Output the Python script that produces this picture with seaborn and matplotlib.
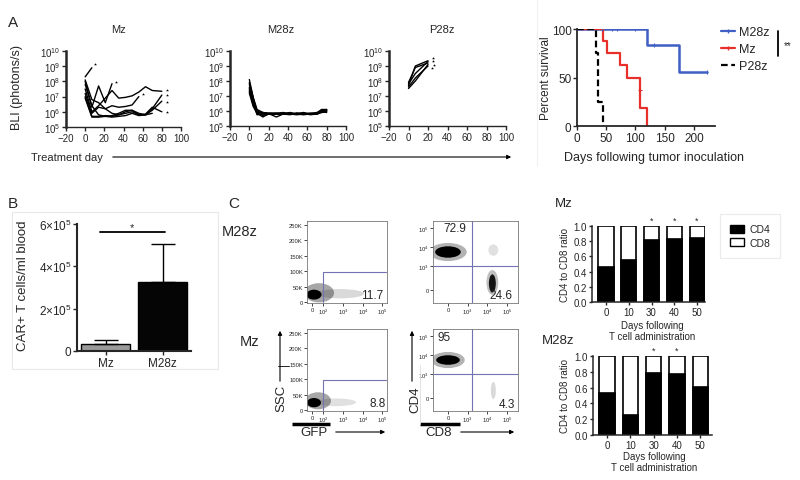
import numpy as np
import pandas as pd
import matplotlib
matplotlib.use("Agg")
import matplotlib.pyplot as plt
import seaborn as sns
from matplotlib.patches import Ellipse, Rectangle, Patch
from matplotlib.lines import Line2D

sns.set_theme(style="ticks")
plt.rcParams['font.family'] = ['Liberation Sans', 'DejaVu Sans']
plt.rcParams['mathtext.fontset'] = 'custom'
plt.rcParams['mathtext.rm'] = 'Liberation Sans'
plt.rcParams['mathtext.it'] = 'Liberation Sans'
plt.rcParams['mathtext.bf'] = 'Liberation Sans'

# ---------------- data ----------------
# Panel A: BLI (log10 photons/s) per mouse
bli_days = [0, 7, 14, 21, 28, 35, 42, 49, 56, 63, 70, 80]
mz_mouse1 = [8.3, 8.9]
mz_mouse2 = [8.0, 6.3, 7.7, 6.6, 7.85]
mz_mouse3 = [7.5, 6.0, 6.4, 6.9, 7.4, 6.9, 6.95, 7.05, 7.3, 7.65, 7.4, 7.35]
mz_mouse4 = [7.2, 5.9, 6.3, 6.2, 6.4, 6.3, 6.35, 6.45, 7.0]
mz_mouse5 = [7.0, 5.7, 5.7, 5.75, 5.7, 5.8, 6.0, 6.1, 5.8, 5.8, 6.2, 7.1]
mz_mouse6 = [7.8, 6.4, 5.8, 5.7, 5.75, 5.9, 6.1, 6.1, 5.9, 5.8, 6.1, 6.7]
mz_mouse7 = [8.1, 6.8, 6.6, 6.2, 5.9, 5.8, 5.9, 6.0, 5.8, 5.85, 6.3, 6.0]
mz_mouse8 = [6.9, 5.65, 5.65, 5.7, 5.65, 5.7, 5.75, 5.9, 5.75, 5.8, 5.9]
mz_star_days = [10, 32, 60, 85, 85, 85, 85]
mz_star_log = [9.15, 7.95, 7.2, 7.45, 7.1, 6.65, 6.0]

m28z_days = [0, 4, 8, 14, 21, 28, 35, 42, 49, 56, 63, 70, 75, 80]
m28z_mouse1 = [8.1, 6.9, 5.9, 5.85, 5.85, 5.85, 5.8, 5.85, 5.8, 5.85, 5.8, 5.85, 6.05, 6.0]
m28z_mouse2 = [7.8, 6.7, 5.85, 5.6, 5.85, 5.8, 5.85, 5.8, 5.85, 5.8, 5.85, 5.8, 6.0, 6.05]
m28z_mouse3 = [7.5, 6.5, 5.8, 5.8, 5.8, 5.6, 5.8, 5.8, 5.75, 5.8, 5.8, 5.8, 6.1, 6.1]
m28z_mouse4 = [7.3, 6.4, 5.9, 5.9, 5.8, 5.8, 5.8, 5.9, 5.8, 5.75, 5.8, 5.85, 5.95, 5.9]
m28z_mouse5 = [7.6, 6.8, 6.0, 5.85, 5.8, 5.85, 5.9, 5.8, 5.85, 5.85, 5.75, 5.8, 6.0, 6.1]
m28z_mouse6 = [7.2, 6.3, 5.85, 5.7, 5.8, 5.8, 5.85, 5.85, 5.8, 5.9, 5.8, 5.8, 5.9, 5.95]
m28z_mouse7 = [7.9, 6.9, 6.1, 5.9, 5.85, 5.85, 5.8, 5.8, 5.8, 5.8, 5.85, 5.9, 6.1, 6.0]
m28z_mouse8 = [7.4, 6.6, 5.75, 5.8, 5.8, 5.8, 5.8, 5.75, 5.85, 5.8, 5.8, 5.8, 5.95, 6.05]

p28z_days = [0, 7, 20]
p28z_mouse1 = [7.7, 9.0, 9.35]
p28z_mouse2 = [7.9, 8.9, 9.2]
p28z_mouse3 = [7.8, 8.5, 9.3]
p28z_mouse4 = [7.6, 8.2, 9.0]
p28z_mouse5 = [7.5, 8.0, 9.1]
p28z_star_days = [25, 25, 26, 24]
p28z_star_log = [9.55, 9.33, 9.1, 8.88]

# Survival
surv_m28z_days = [0, 120, 175, 222]
surv_m28z_pct = [100, 83.3, 55.6, 55.6]
surv_mz_days = [0, 44, 52, 73, 86, 108, 119]
surv_mz_pct = [100, 87.5, 75, 62.5, 50, 18.75, 0]
surv_p28z_days = [0, 32, 36, 45]
surv_p28z_pct = [100, 75, 25, 0]
cens_m28z_days = [43, 59, 68, 100, 132, 222]
cens_m28z_pct = [100, 100, 100, 100, 83.3, 55.6]
cens_mz_days = [108]
cens_mz_pct = [37.5]

# Panel B
b_groups = ['Mz', 'M28z']
b_means = [3.2e4, 3.27e5]
b_sem = [2.0e4, 1.78e5]

# Panel C: stacked CD4/CD8
stack_days = ['0', '10', '30', '40', '50']
mz_cd4 = [0.46, 0.55, 0.82, 0.83, 0.84]
mz_cd8 = [0.54, 0.45, 0.18, 0.17, 0.16]
m28z_cd4 = [0.53, 0.25, 0.78, 0.77, 0.61]
m28z_cd8 = [0.47, 0.75, 0.22, 0.23, 0.39]
mz_star_idx = [2, 3, 4]
m28z_star_idx = [2, 3]

# Flow cytometry populations (center x, center y, width, height, opacity)
gfp_m28z_pops = [(1.4, 27, 2.4, 30, 0.15), (0.35, 30, 1.5, 62, 0.35), (0.1, 24, 0.75, 32, 1.0)]
gfp_mz_pops = [(1.2, 25, 2.0, 25, 0.12), (0.3, 30, 1.3, 55, 0.35), (0.1, 24, 0.7, 30, 1.0)]
cd_m28z_pops = [(2.3, 2.1, 0.5, 0.6, 0.12), (0.0, 2.0, 1.9, 0.95, 0.3), (0.0, 2.0, 1.3, 0.6, 1.0),
                (2.25, 0.4, 0.6, 1.3, 0.25), (2.25, 0.35, 0.35, 0.95, 0.9)]
cd_mz_pops = [(2.3, 0.4, 0.25, 0.9, 0.15), (0.0, 2.0, 1.7, 0.85, 0.3), (0.0, 2.0, 1.2, 0.5, 1.0)]
gfp_m28z_pct = '11.7'
gfp_mz_pct = '8.8'
cd_m28z_pct = ('72.9', '24.6')
cd_mz_pct = ('95', '4.3')

# ---------------- figure ----------------
W, H = 800, 481
fig = plt.figure(figsize=(W / 100, H / 100), dpi=100)
fig.patch.set_facecolor('white')


def add_ax(l, t, r, b):
    return fig.add_axes([l / W, 1 - b / H, (r - l) / W, (b - t) / H])


def long_df(days, mice):
    rows = []
    for i, m in enumerate(mice):
        for d, v in zip(days, m):
            rows.append({'day': d, 'bli': 10 ** v, 'mouse': i})
    return pd.DataFrame(rows)


def style_bli(ax):
    ax.set_yscale('log')
    ax.set_ylim(1e5, 1e10)
    ax.set_xlim(-20, 100)
    ax.set_xticks([-20, 0, 20, 40, 60, 80, 100])
    ax.set_yticks([10 ** k for k in range(5, 11)])
    ax.yaxis.set_minor_locator(matplotlib.ticker.NullLocator())
    ax.tick_params(labelsize=7, length=3, width=1, pad=1)
    for s in ['top', 'right']:
        ax.spines[s].set_visible(False)
    ax.spines['left'].set_linewidth(1.8)
    ax.spines['bottom'].set_linewidth(1.0)
    ax.set_xlabel('')
    ax.set_ylabel('')


ax_mz = add_ax(66, 52, 181, 128)
sns.lineplot(data=long_df(bli_days, [mz_mouse1, mz_mouse2, mz_mouse3, mz_mouse4,
                                     mz_mouse5, mz_mouse6, mz_mouse7, mz_mouse8]),
             x='day', y='bli', units='mouse', estimator=None, color='black', lw=1.0, ax=ax_mz)
ax_mz.scatter(mz_star_days, [10 ** v for v in mz_star_log], marker='*', s=5, color='black', lw=0)
style_bli(ax_mz)

ax_m28 = add_ax(230, 52, 346, 127)
sns.lineplot(data=long_df(m28z_days, [m28z_mouse1, m28z_mouse2, m28z_mouse3, m28z_mouse4,
                                      m28z_mouse5, m28z_mouse6, m28z_mouse7, m28z_mouse8]),
             x='day', y='bli', units='mouse', estimator=None, color='black', lw=1.0, ax=ax_m28)
style_bli(ax_m28)

ax_p28 = add_ax(389, 52, 506, 127)
sns.lineplot(data=long_df(p28z_days, [p28z_mouse1, p28z_mouse2, p28z_mouse3, p28z_mouse4, p28z_mouse5]),
             x='day', y='bli', units='mouse', estimator=None, color='black', lw=1.0, ax=ax_p28)
ax_p28.scatter(p28z_star_days, [10 ** v for v in p28z_star_log], marker='*', s=5, color='black', lw=0)
style_bli(ax_p28)

# Survival
ax_s = add_ax(577, 30, 715, 127)
col_blue, col_red = '#3f5fc4', '#e8302a'
sns.lineplot(x=surv_m28z_days, y=surv_m28z_pct, drawstyle='steps-post', estimator=None,
             color=col_blue, lw=1.8, ax=ax_s)
sns.lineplot(x=surv_mz_days, y=surv_mz_pct, drawstyle='steps-post', estimator=None,
             color=col_red, lw=1.6, ax=ax_s)
sns.lineplot(x=surv_p28z_days, y=surv_p28z_pct, drawstyle='steps-post', estimator=None,
             color='black', lw=1.6, ax=ax_s)
ax_s.lines[-1].set_dashes([3, 1.6])
ax_s.scatter(cens_m28z_days, cens_m28z_pct, marker='|', s=12, color=col_blue, lw=0.8, zorder=3)
ax_s.scatter(cens_mz_days, cens_mz_pct, marker='_', s=8, color=col_red, lw=0.8, zorder=3)
ax_s.set_xlim(0, 236)
ax_s.set_ylim(0, 100)
ax_s.set_xticks([0, 50, 100, 150, 200])
ax_s.set_yticks([0, 50, 100])
ax_s.tick_params(labelsize=8.5, length=3, width=1, pad=1)
for s in ['top', 'right']:
    ax_s.spines[s].set_visible(False)
ax_s.spines['left'].set_linewidth(1.3)
ax_s.spines['bottom'].set_linewidth(1.3)
ax_s.set_xlabel('')
ax_s.set_ylabel('')
handles = [Line2D([], [], color=col_blue, lw=1.6, marker='|', markersize=3),
           Line2D([], [], color=col_red, lw=1.6, marker='|', markersize=3),
           Line2D([], [], color='black', lw=1.6, dashes=[3, 1.6])]
fig.legend(handles, ['M28z', 'Mz', 'P28z'], loc='upper left',
           bbox_to_anchor=(721 / W, 1 - 27 / H), frameon=False, fontsize=9,
           handlelength=1.1, handletextpad=0.35, labelspacing=0.42, borderpad=0, borderaxespad=0)

# Panel B
ax_b = add_ax(77, 225, 191, 352)
df_b = pd.DataFrame({'group': b_groups, 'cells': b_means})
sns.barplot(data=df_b, x='group', y='cells', hue='group', palette=['#9a9a9a', '#050505'],
            edgecolor='black', linewidth=1.0, width=0.85, errorbar=None, legend=False, ax=ax_b)
ax_b.errorbar([0, 1], b_means, yerr=[[0, 0], b_sem], fmt='none', ecolor='black',
              elinewidth=1.0, capsize=8.5, capthick=1.0, zorder=5)
ax_b.set_xlim(-0.5, 1.5)
ax_b.set_ylim(0, 6e5)
ax_b.set_yticks([0, 2e5, 4e5, 6e5])
ax_b.set_yticklabels(['0', '2×10$^5$', '4×10$^5$', '6×10$^5$'])
ax_b.tick_params(labelsize=8.5, length=3, width=1, pad=1)
for s in ['top', 'right']:
    ax_b.spines[s].set_visible(False)
ax_b.spines['left'].set_linewidth(1.5)
ax_b.spines['bottom'].set_linewidth(1.5)
ax_b.set_xlabel('')
ax_b.set_ylabel('')


# Flow plots
def flow(ax, pops, kind, gate_y=None):
    for (cx, cy, w, h, a) in pops:
        ax.add_patch(Ellipse((cx, cy), w, h, facecolor='black', edgecolor='none', alpha=a))
    gate_col = '#7373b3'
    if kind == 'gfp':
        ax.set_xlim(-0.25, 3.75)
        ax.set_ylim(-3, 262)
        ax.plot([0.55, 0.55, 3.7], [0, 96, 96], color=gate_col, lw=0.8)
        ax.set_xticks([0, 0.55, 1.55, 2.55, 3.5])
        ax.set_xticklabels(['0', '10$^2$', '10$^3$', '10$^4$', '10$^5$'])
        ax.set_yticks([0, 50, 100, 150, 200, 250])
        ax.set_yticklabels(['0', '50K', '100K', '150K', '200K', '250K'])
    else:
        ax.set_xlim(-0.76, 3.55)
        ax.set_ylim(-0.68, 3.63)
        ax.axvline(1.22, color=gate_col, lw=0.8)
        ax.axhline(1.25, color=gate_col, lw=0.8)
        ax.set_xticks([0, 1, 2, 3])
        ax.set_xticklabels(['0', '10$^3$', '10$^4$', '10$^5$'])
        ax.set_yticks([0, 1.25, 2.25, 3.25])
        ax.set_yticklabels(['0', '10$^3$', '10$^4$', '10$^5$'])
    ax.tick_params(labelsize=4.2, length=2, width=0.6, pad=1)
    for s in ax.spines.values():
        s.set_linewidth(0.6)
        s.set_color('#777777')


flow(add_ax(307, 222, 387, 304), gfp_m28z_pops, 'gfp')
flow(add_ax(433, 222, 518, 304), cd_m28z_pops, 'cd')
flow(add_ax(307, 330, 387, 412), gfp_mz_pops, 'gfp')
flow(add_ax(433, 330, 518, 412), cd_mz_pops, 'cd')


# Stacked bars
def stacked(ax, cd4, cd8, star_idx, star_y):
    total = [a + b for a, b in zip(cd4, cd8)]
    sns.barplot(x=stack_days, y=total, color='white', edgecolor='black', linewidth=1.2,
                width=0.66, errorbar=None, ax=ax)
    sns.barplot(x=stack_days, y=cd4, color='black', edgecolor='black', linewidth=1.2,
                width=0.66, errorbar=None, ax=ax)
    for i in star_idx:
        ax.text(i, star_y, '*', ha='center', va='center', fontsize=6.5, clip_on=False)
    ax.set_ylim(0, 1.0)
    ax.set_yticks([0, 0.2, 0.4, 0.6, 0.8, 1.0])
    ax.set_yticklabels(['0.0', '0.2', '0.4', '0.6', '0.8', '1.0'])
    ax.tick_params(labelsize=7, length=2.5, width=1, pad=1)
    for s in ['top', 'right']:
        ax.spines[s].set_visible(False)
    ax.spines['left'].set_linewidth(1.1)
    ax.spines['bottom'].set_linewidth(1.1)
    ax.set_xlabel('')
    ax.set_ylabel('')


ax_c1 = add_ax(592, 227, 705, 303)
stacked(ax_c1, mz_cd4, mz_cd8, mz_star_idx, 1.08)
ax_c1.set_xlim(-0.615, 4.35)
ax_c2 = add_ax(593, 357, 712, 436)
stacked(ax_c2, m28z_cd4, m28z_cd8, m28z_star_idx, 1.07)
ax_c2.set_xlim(-0.6, 4.5)

leg = fig.legend([Patch(facecolor='black', edgecolor='black'), Patch(facecolor='white', edgecolor='black')],
                 ['CD4', 'CD8'], loc='upper left', bbox_to_anchor=(720 / W, 1 - 215 / H),
                 frameon=True, fontsize=7.5, handlelength=1.3, handleheight=0.8,
                 handletextpad=0.5, labelspacing=0.3, borderpad=1.0, borderaxespad=0,
                 fancybox=False)
leg.get_frame().set_edgecolor('#e6e6e6')
leg.get_frame().set_linewidth(0.8)

# ---------------- overlay annotations (pixel coordinates) ----------------
ov = fig.add_axes([0, 0, 1, 1], zorder=20)
ov.set_xlim(0, W)
ov.set_ylim(H, 0)
ov.axis('off')
ov.patch.set_visible(False)

ov.text(13, 23, 'A', fontsize=11, ha='center', va='center')
ov.text(13, 204, 'B', fontsize=11, ha='center', va='center')
ov.text(234, 204, 'C', fontsize=11, ha='center', va='center')

ov.text(119, 30, 'Mz', fontsize=8, ha='center', va='center')
ov.text(281, 30, 'M28z', fontsize=8, ha='center', va='center')
ov.text(442, 30, 'P28z', fontsize=8, ha='center', va='center')
ov.text(17, 87, 'BLI (photons/s)', fontsize=9, rotation=90, ha='center', va='center')
ov.text(67, 158, 'Treatment day', fontsize=8, ha='center', va='center')
ov.annotate('', xy=(514, 158), xytext=(110, 158),
            arrowprops=dict(arrowstyle='-|>', color='black', lw=0.8, mutation_scale=6))

ov.text(546, 78, 'Percent survival', fontsize=8.5, rotation=90, ha='center', va='center')
ov.text(654, 158, 'Days following tumor inoculation', fontsize=9, ha='center', va='center')
ov.plot([778, 778], [32, 57], color='black', lw=1.3)
ov.text(788, 46, '**', fontsize=7, ha='center', va='center')
ov.plot([537, 537], [0, 167], color='#f0f0f0', lw=0.8)

# panel B frame and annotations
ov.add_patch(Rectangle((12, 213), 206, 157, fill=False, edgecolor='#e8e8e8', lw=0.8))
ov.text(23, 286, 'CAR+ T cells/ml blood', fontsize=9.5, rotation=90, ha='center', va='center')
ov.plot([100, 165], [233, 233], color='black', lw=1.3)
ov.text(132, 228, '*', fontsize=8, ha='center', va='center')

# flow annotations
ov.text(240, 232, 'M28z', fontsize=10.5, ha='center', va='center')
ov.text(250, 342, 'Mz', fontsize=10.5, ha='center', va='center')
ov.text(372, 296, gfp_m28z_pct, fontsize=8.5, ha='center', va='center')
ov.text(378, 404, gfp_mz_pct, fontsize=8.5, ha='center', va='center')
ov.text(455, 229, cd_m28z_pct[0], fontsize=8.5, ha='center', va='center')
ov.text(501, 296, cd_m28z_pct[1], fontsize=8.5, ha='center', va='center')
ov.text(444, 338, cd_mz_pct[0], fontsize=8.5, ha='center', va='center')
ov.text(507, 405, cd_mz_pct[1], fontsize=8.5, ha='center', va='center')

ov.text(281, 398, 'SSC', fontsize=9.5, rotation=90, ha='center', va='center')
ov.annotate('', xy=(280, 329), xytext=(280, 385),
            arrowprops=dict(arrowstyle='-|>', color='black', lw=0.8, mutation_scale=6))
ov.plot([278, 289], [367, 367], color='black', lw=0.6)
ov.text(314, 433, 'GFP', fontsize=9.5, ha='center', va='center')
ov.annotate('', xy=(388, 433), xytext=(333, 433),
            arrowprops=dict(arrowstyle='-|>', color='black', lw=0.8, mutation_scale=6))
ov.plot([292, 330], [425, 425], color='black', lw=2.5, solid_capstyle='butt')

ov.text(415, 400, 'CD4', fontsize=9.5, rotation=90, ha='center', va='center')
ov.annotate('', xy=(412, 329), xytext=(412, 385),
            arrowprops=dict(arrowstyle='-|>', color='black', lw=0.8, mutation_scale=6))
ov.text(439, 433, 'CD8', fontsize=9.5, ha='center', va='center')
ov.annotate('', xy=(517, 433), xytext=(458, 433),
            arrowprops=dict(arrowstyle='-|>', color='black', lw=0.8, mutation_scale=6))
ov.plot([420, 460], [425, 425], color='black', lw=2.5, solid_capstyle='butt')
ov.plot([420, 420], [366, 425], color='#dddddd', lw=0.6)

# stacked bar annotations
ov.text(564, 204, 'Mz', fontsize=9.5, ha='center', va='center')
ov.text(558, 341, 'M28z', fontsize=9.5, ha='center', va='center')
ov.text(565, 265, 'CD4 to CD8 ratio', fontsize=7, rotation=90, ha='center', va='center')
ov.text(565, 396, 'CD4 to CD8 ratio', fontsize=7, rotation=90, ha='center', va='center')
ov.text(652, 326, 'Days following', fontsize=7, ha='center', va='center')
ov.text(652, 337, 'T cell administration', fontsize=7, ha='center', va='center')
ov.text(654, 457, 'Days following', fontsize=7, ha='center', va='center')
ov.text(654, 468, 'T cell administration', fontsize=7, ha='center', va='center')

fig.savefig('out.png', dpi=100)
